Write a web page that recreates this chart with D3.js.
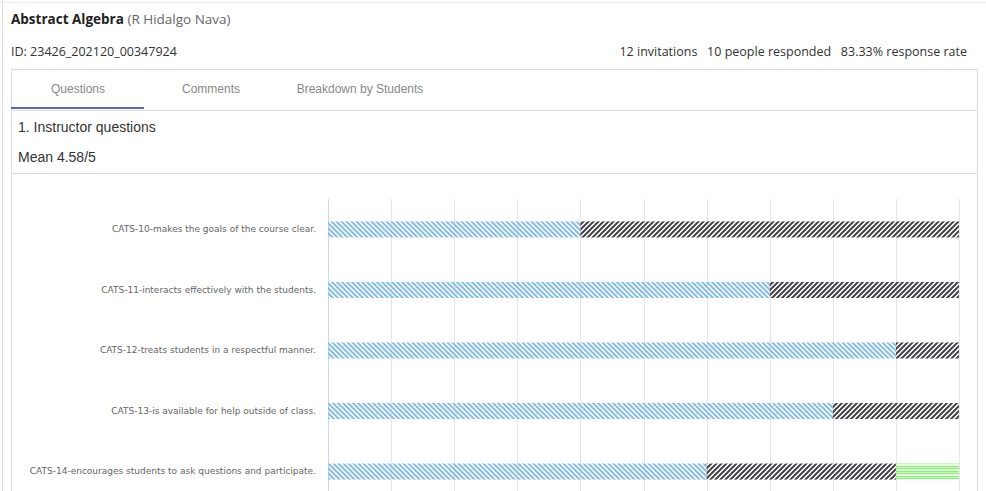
<!DOCTYPE html>
<html>
<head>
<meta charset="utf-8">
<script src="https://cdn.jsdelivr.net/npm/d3@7"></script>
<style>
  body { margin: 0; background: #fff; }
  svg { display: block; }
  .ylab text { font-family: "DejaVu Sans", Verdana, sans-serif; font-size: 9px; fill: #666; }
</style>
</head>
<body>
<svg id="chart" width="986" height="491"></svg>
<script>
// data (counts out of 10 responses)
const questions = [
  "CATS-10-makes the goals of the course clear.",
  "CATS-11-interacts effectively with the students.",
  "CATS-12-treats students in a respectful manner.",
  "CATS-13-is available for help outside of class.",
  "CATS-14-encourages students to ask questions and participate."
];
const seriesNames = ["Strongly Agree", "Agree", "Neutral"];
const strongly = [4, 7, 9, 8, 6];
const agree = [6, 3, 1, 2, 3];
const neutral = [0, 0, 0, 0, 1];
const xTicks = [0, 10, 20, 30, 40, 50, 60, 70, 80, 90, 100];
const tabs = ["Questions", "Comments", "Breakdown by Students"];

const svg = d3.select("#chart");
const sans = "'Open Sans', sans-serif";
const arial = "'Liberation Sans', Arial, sans-serif";

// header
let title = svg.append("text").attr("x", 11).attr("y", 24)
  .attr("font-family", sans).attr("font-size", 13.5).attr("fill", "#222");
title.append("tspan").attr("font-weight", "bold").text("Abstract Algebra");
title.append("tspan").attr("fill", "#666").text(" (R Hidalgo Nava)");

svg.append("text").attr("x", 11).attr("y", 56)
  .attr("font-family", sans).attr("font-size", 12.5).attr("fill", "#333")
  .text("ID: 23426_202120_00347924");
svg.append("text").attr("x", 967).attr("y", 56).attr("text-anchor", "end")
  .attr("font-family", sans).attr("font-size", 12.5).attr("fill", "#333")
  .attr("xml:space", "preserve")
  .text("12 invitations   10 people responded   83.33% response rate");

// card borders
const border = "#ddd";
svg.append("line").attr("x1", 2.5).attr("x2", 2.5).attr("y1", 0).attr("y2", 491).attr("stroke", border);
svg.append("line").attr("x1", 0).attr("x2", 986).attr("y1", 2.5).attr("y2", 2.5).attr("stroke", "#eee");
svg.append("rect").attr("x", 11.5).attr("y", 69.5).attr("width", 966).attr("height", 430)
  .attr("fill", "none").attr("stroke", border);
svg.append("line").attr("x1", 11).attr("x2", 978).attr("y1", 110.5).attr("y2", 110.5).attr("stroke", border);
svg.append("line").attr("x1", 11).attr("x2", 978).attr("y1", 173.5).attr("y2", 173.5).attr("stroke", border);

// tabs
const tabPos = { "Questions": 78, "Comments": 211, "Breakdown by Students": 360 };
svg.append("g").selectAll("text").data(tabs).join("text")
  .attr("x", d => tabPos[d]).attr("y", 93).attr("text-anchor", "middle")
  .attr("font-family", arial).attr("font-size", 12).attr("fill", "#888")
  .text(d => d);
svg.append("rect").attr("x", 11).attr("y", 107).attr("width", 133).attr("height", 2).attr("fill", "#5468c4");

svg.append("text").attr("x", 18).attr("y", 132)
  .attr("font-family", arial).attr("font-size", 14).attr("fill", "#333")
  .text("1. Instructor questions");
svg.append("text").attr("x", 18).attr("y", 162)
  .attr("font-family", arial).attr("font-size", 14).attr("fill", "#333")
  .text("Mean 4.58/5");

// patterns (highcharts-like)
const colors = ["#86bcee", "#434348", "#90ed7d"];
const paths = [
  "M 0 0 L 5 5 M 4.5 -0.5 L 5.5 0.5 M -0.5 4.5 L 0.5 5.5",
  "M 0 5 L 5 0 M -0.5 0.5 L 0.5 -0.5 M 4.5 5.5 L 5.5 4.5",
  "M 0 1.5 L 5 1.5 M 0 3.5 L 5 3.5"
];
const defs = svg.append("defs");
paths.forEach((p, i) => {
  const pat = defs.append("pattern").attr("id", "pat" + i)
    .attr("patternUnits", "userSpaceOnUse").attr("width", 5).attr("height", 5);
  pat.append("path").attr("d", p).attr("stroke", colors[i])
    .attr("stroke-width", i == 2 ? 1.6 : 2).attr("fill", "none");
});

// chart
const x = d3.scaleLinear().domain([0, 100]).range([328, 959]);
const y = d3.scaleBand().domain(questions).range([199, 502]).paddingInner(0.735).paddingOuter(0.37);

const grid = svg.append("g");
grid.selectAll("line").data(xTicks).join("line")
  .attr("x1", d => Math.round(x(d)) + 0.5).attr("x2", d => Math.round(x(d)) + 0.5)
  .attr("y1", 199).attr("y2", 491)
  .attr("stroke", d => d == 0 ? "#ccd6eb" : "#e6e6e6");

const rows = questions.map((q, i) => [strongly[i], agree[i], neutral[i]]);
const stack = d3.stack().keys([0, 1, 2]).offset(d3.stackOffsetExpand)(rows);

svg.append("g").selectAll("g").data(stack).join("g")
  .attr("fill", (d, i) => "url(#pat" + i + ")")
  .selectAll("rect").data((d) => d.map((v, j) => ({ v, q: questions[j] })))
  .join("rect")
  .attr("x", d => x(d.v[0] * 100))
  .attr("y", d => y(d.q))
  .attr("width", d => x(d.v[1] * 100) - x(d.v[0] * 100))
  .attr("height", y.bandwidth());

svg.append("g")
  .attr("class", "ylab")
  .attr("transform", "translate(316,0)")
  .call(d3.axisLeft(y).tickSize(0).tickPadding(0))
  .call(g => g.select(".domain").remove());
</script>
</body>
</html>
